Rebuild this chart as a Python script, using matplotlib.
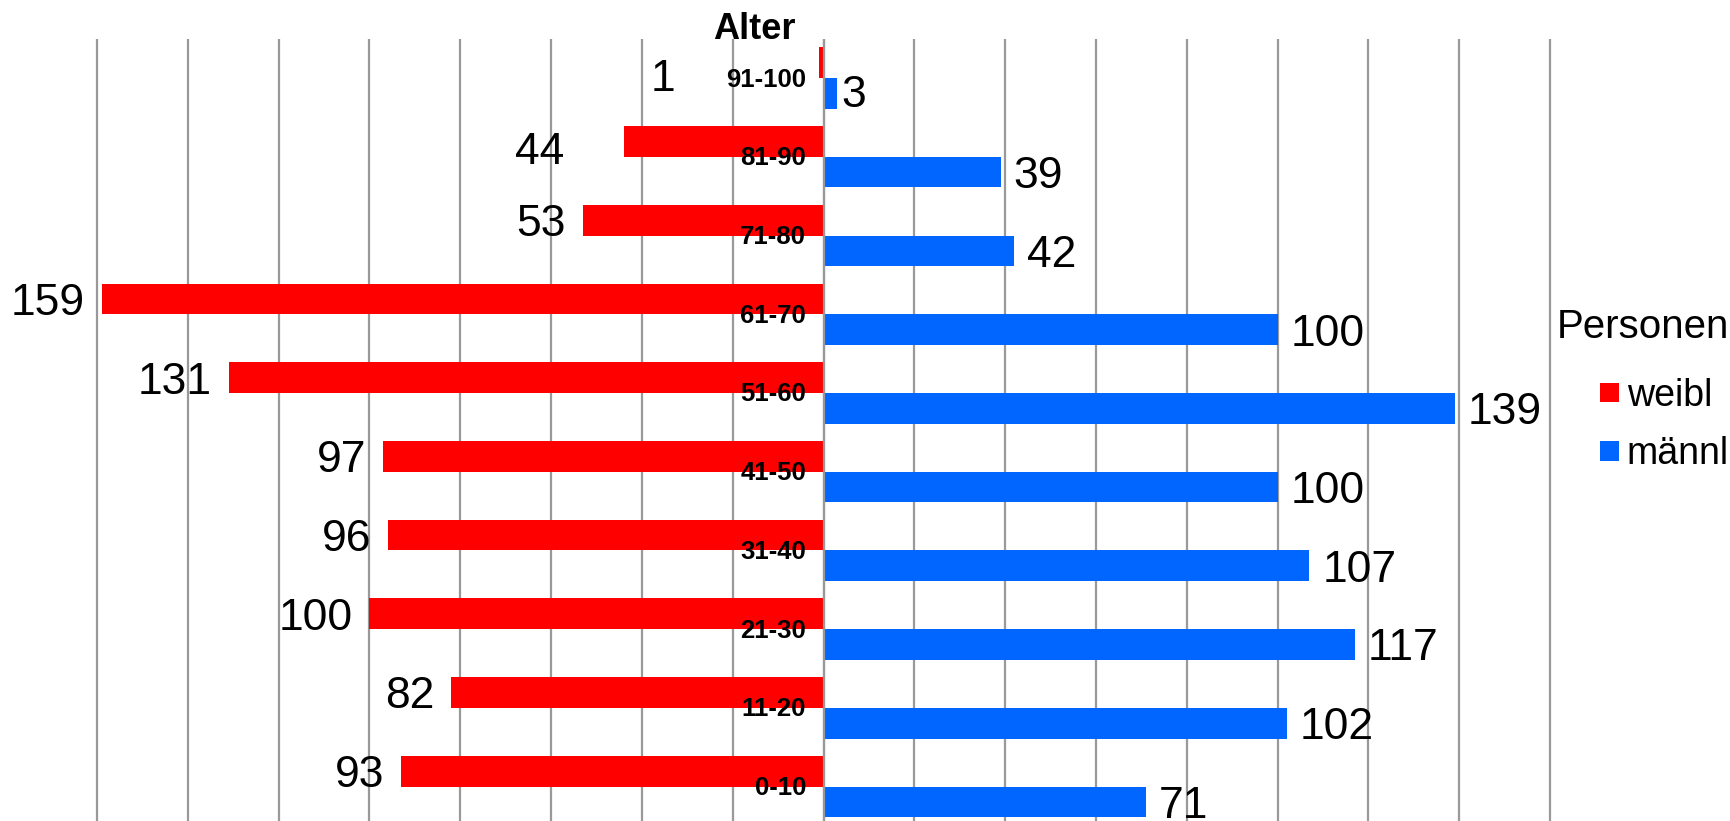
import matplotlib
matplotlib.use('Agg')
import matplotlib.pyplot as plt
from matplotlib.patches import Patch

plt.rcParams['font.family'] = ['Liberation Sans', 'DejaVu Sans']

# ---- data ----
categories = ['0-10', '11-20', '21-30', '31-40', '41-50',
              '51-60', '61-70', '71-80', '81-90', '91-100']
weibl = [93, 82, 100, 96, 97, 131, 159, 53, 44, 1]
maennl = [71, 102, 117, 107, 100, 139, 100, 42, 39, 3]
grid_ticks = list(range(-160, 161, 20))
title_text = 'Alter'
legend_title = 'Personen'
series_names = ['weibl', 'männl']

# ---- style ----
RED = '#ff0000'
BLUE = '#0066ff'
GRID = '#999999'

W, H = 1731, 821
fig = plt.figure(figsize=(W / 100, H / 100), dpi=100)

xmin, xmax = -162, 162
scale = 1453 / 320.0
cx = 823.5
left_px = cx + xmin * scale
width_px = (xmax - xmin) * scale
top_px = 38.7
bottom_px = 826.0
ax = fig.add_axes([left_px / W, 1 - bottom_px / H, width_px / W,
                   (bottom_px - top_px) / H])

n = len(categories)
ypos = list(range(n))
bh = 0.39

ax.barh([y + bh / 2 for y in ypos], [-v for v in weibl], height=bh,
        color=RED, zorder=2, label=series_names[0])
ax.barh([y - bh / 2 for y in ypos], maennl, height=bh,
        color=BLUE, zorder=2, label=series_names[1])

ax.set_xlim(xmin, xmax)
ax.set_ylim(-0.5, n - 0.5)
ax.set_xticks(grid_ticks)
ax.xaxis.grid(True, color=GRID, linewidth=1.6)
ax.yaxis.grid(False)
ax.set_axisbelow(True)
ax.axvline(0, color=GRID, linewidth=1.6, zorder=3)
ax.tick_params(left=False, bottom=False, labelleft=False, labelbottom=False)
for s in ax.spines.values():
    s.set_visible(False)

# category labels
cat_fs = 18.5
for y, c in zip(ypos, categories):
    ax.annotate(c, xy=(0, y), xytext=(-12.6, -0.358 * cat_fs + 0.5),
                textcoords='offset points', ha='right', va='baseline',
                fontsize=cat_fs, fontweight='bold', zorder=4)

# value labels
val_fs = 32
dy0 = -0.358 * val_fs
red_pad = 12.0
blue_pad = 9.5
red_override = {'91-100': (-112.3, -8.6, 'center'),
                '81-90': (-42.5, -4.7, 'right')}
blue_override = {'91-100': (3.0, 1.8, 'left')}

for y, c, v in zip(ypos, categories, weibl):
    dx, dy, ha = red_override.get(c, (-red_pad, 0.0, 'right'))
    ax.annotate(str(v), xy=(-v, y + bh / 2), xytext=(dx, dy0 + dy),
                textcoords='offset points', ha=ha, va='baseline',
                fontsize=val_fs, zorder=4)
for y, c, v in zip(ypos, categories, maennl):
    dx, dy, ha = blue_override.get(c, (blue_pad, 0.0, 'left'))
    ax.annotate(str(v), xy=(v, y - bh / 2), xytext=(dx, dy0 + dy),
                textcoords='offset points', ha=ha, va='baseline',
                fontsize=val_fs, zorder=4)

# title
fig.text(754 / W, 1 - 39 / H, title_text, ha='center', va='baseline',
         fontsize=26, fontweight='bold')

# legend
handles = [Patch(facecolor=RED, edgecolor='none', label=series_names[0]),
           Patch(facecolor=BLUE, edgecolor='none', label=series_names[1])]
leg = fig.legend(handles=handles, title=legend_title, loc='upper right',
                 bbox_to_anchor=(1729 / W, 1 - 308 / H), frameon=False,
                 fontsize=27, title_fontsize=29, handlelength=0.507,
                 handleheight=0.403, handletextpad=0.22, labelspacing=0.605,
                 borderpad=0, borderaxespad=0, alignment='right')
try:
    leg._legend_box.sep = leg._legend_box.sep + 6.5
except Exception:
    pass

fig.savefig('out.png', dpi=100)
